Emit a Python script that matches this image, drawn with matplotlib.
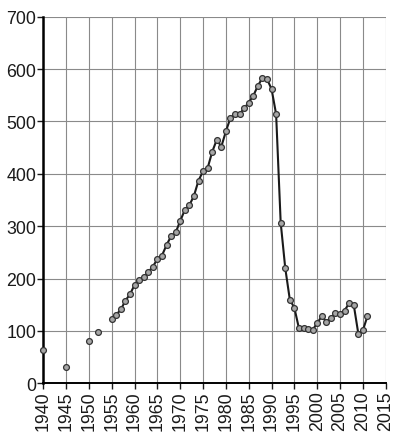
import numpy as np
import matplotlib
matplotlib.use('Agg')
import matplotlib.pyplot as plt

plt.rcParams['font.family'] = ['Liberation Sans', 'DejaVu Sans']

# isolated early observations (no connecting line)
early_years = [1940, 1945, 1950, 1952]
early_vals = [64, 32, 81, 98]

# continuous annual series
years = list(range(1955, 2012))
vals = [122, 131, 141, 158, 170, 188, 197, 203, 212, 223,
        237, 244, 264, 281, 288, 310, 331, 340, 358, 387,
        405, 411, 442, 465, 452, 481, 507, 514, 514, 525,
        536, 549, 568, 583, 581, 562, 514, 307, 220, 160,
        144, 105, 106, 104, 102, 115, 128, 118, 125, 134,
        133, 139, 153, 150, 95, 101, 128]

fig = plt.figure(figsize=(3.97, 4.39), dpi=100)
ax = fig.add_axes([0.109, 0.1246, 0.8625, 0.8351])

mk = dict(marker='o', markersize=4.2, markerfacecolor='#a6a6a6',
          markeredgecolor='#333333', markeredgewidth=0.9, clip_on=False)
ax.plot(years, vals, color='#1a1a1a', linewidth=1.5, zorder=3, **mk)
ax.plot(early_years, early_vals, linestyle='none', zorder=3, **mk)

ax.set_xlim(1940, 2015)
ax.set_ylim(0, 700)
ax.set_xticks(np.arange(1940, 2016, 5))
ax.set_yticks(np.arange(0, 701, 100))
ax.grid(True, color='#8a8a8a', linewidth=0.8)
ax.set_axisbelow(True)

for s in ['top', 'right']:
    ax.spines[s].set_visible(False)
ax.spines['left'].set_linewidth(1.8)
ax.spines['bottom'].set_linewidth(1.4)
ax.tick_params(axis='both', labelsize=12.8, length=4, width=1, pad=1, colors='#1a1a1a')
ax.tick_params(axis='x', labelrotation=90)

fig.savefig('out.png', dpi=100)
